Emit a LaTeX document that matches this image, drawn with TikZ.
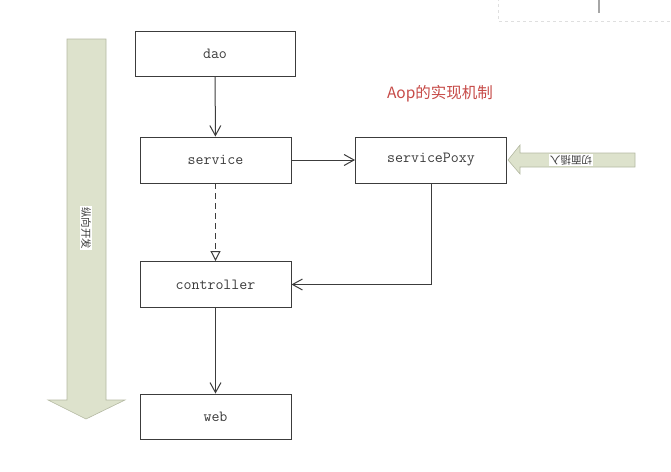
\documentclass[tikz,border=0pt]{standalone}
\usepackage{fontspec}
\newfontfamily\cjk{Noto Sans CJK SC}
\usetikzlibrary{arrows.meta,positioning,calc,shapes.arrows}
\definecolor{lineg}{HTML}{3C3C3C}
\definecolor{olivef}{HTML}{DDE2CC}
\definecolor{olived}{HTML}{B4B9A2}
\definecolor{titler}{HTML}{C64A47}

\begin{document}
\begin{tikzpicture}[
      x=1pt, y=-1pt,
      layer/.style={rectangle,draw=lineg,line width=0.9pt,fill=white,minimum width=151pt,
                  minimum height=46pt,align=center,text=lineg,
                  font=\ttfamily\fontsize{15.5}{17}\selectfont},
      arr/.style={-{Straight Barb[length=10pt,width=11pt]},line width=1pt,lineg},
      bigarrow/.style={fill=olivef,draw=olived,line width=0.6pt}
    ]
    \useasboundingbox (0,0) rectangle (671,471);

    % corner of the window behind
    \draw[gray!25,dashed,line width=0.8pt] (498,-2) -- (498,21) -- (673,21);
    \draw[gray!70,line width=1.2pt] (599,0) -- (599,13);

    % long arrows
    \draw[bigarrow] (67,39) -- (106,39) -- (106,400) -- (125,400) -- (86,419)
       -- (48,400) -- (67,400) -- cycle;
    \node[fill=white,inner sep=1pt,rotate=-90,font=\cjk\fontsize{10.5}{12}\selectfont,text=lineg]
       (vdev) at (86,228) {纵向开发};
    \draw[bigarrow] (635,153) -- (635,167) -- (520,167) -- (520,174) -- (508,160)
       -- (520,145) -- (520,153) -- cycle;
    \node[fill=white,inner sep=1pt,rotate=180,font=\cjk\fontsize{10.5}{12}\selectfont,text=lineg]
       (aspect) at (571,160) {切面插入};

    \node[font=\cjk\fontsize{15.5}{17}\selectfont,text=titler] (title) at (440,94) {Aop的实现机制};

    \node[layer,minimum width=160pt,minimum height=45pt] (dao) at (215,54) {dao};
    \node[layer] (svc)  at (215.5,160)   {service};
    \node[layer] (poxy) at (431,160)     {servicePoxy};
    \node[layer] (ctl)  at (215.5,284.5) {controller};
    \node[layer,minimum height=45pt] (web) at (215.5,416.5) {web};

    \draw[arr] (dao) -- (svc);
    \draw[arr] (svc) -- (poxy);
    \draw[line width=1pt,lineg,dash pattern=on 6pt off 4pt,
          -{Triangle[open,fill=white,length=10pt,width=10pt]}] (svc) -- (ctl);
    \draw[arr] (poxy.south) |- (ctl.east);
    \draw[arr] (ctl) -- (web);

  \end{tikzpicture}
\end{document}
